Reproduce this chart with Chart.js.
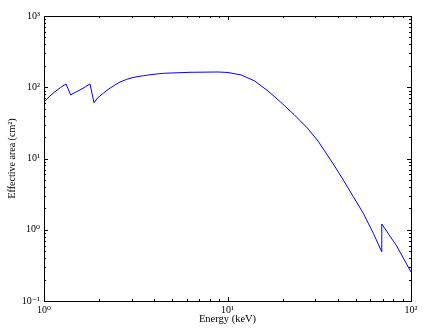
<!DOCTYPE html>
<html>
<head>
<meta charset="utf-8">
<script src="https://cdn.jsdelivr.net/npm/chart.js@4.4.1/dist/chart.umd.min.js"></script>
<style>
html,body{margin:0;padding:0;background:#fff;}
canvas{display:block;}
</style>
</head>
<body>
<canvas id="c" width="432" height="332"></canvas>
<script>
// Data
const energyKeV = [1.000, 1.071, 1.148, 1.230, 1.318, 1.398, 1.475, 1.571, 1.673, 1.781,
  1.873, 1.969, 2.105, 2.233, 2.386, 2.563, 2.823, 3.094, 3.476, 3.878, 4.468, 6.247, 8.876,
  10.06, 11.89, 14.07, 16.62, 19.65, 23.04, 27.22, 31.13, 37.72, 42.77, 48.49, 54.97, 62.32,
  69.23, 69.3, 83.57, 100];
const effectiveArea = [62.1, 74.2, 86.6, 99.2, 111.1, 77.9, 84.4, 91.5, 100.8, 111.1,
  60.7, 71.8, 82.3, 93.0, 104.1, 116.6, 129.3, 137.9, 145.3, 151.0, 157.0, 162.1, 163.7,
  161.1, 148.6, 122.4, 88.6, 60.7, 41.45, 26.8, 17.61, 8.37, 4.99, 2.91, 1.70, 0.892,
  0.492, 1.204, 0.591, 0.255];
const xRange = [1, 100];
const yRange = [0.1, 1000];
const xTitle = 'Energy (keV)';
const yTitle = 'Effective area (cm²)';
const supers = {'-':'⁻','0':'⁰','1':'¹','2':'²','3':'³','4':'⁴','5':'⁵','6':'⁶','7':'⁷','8':'⁸','9':'⁹'};

function powLabel(v){
  const e = Math.log10(v);
  const r = Math.round(e);
  if (Math.abs(e - r) > 1e-9) return '';
  return '10' + String(r).split('').map(ch => supers[ch]).join('');
}

const FONT = "'Liberation Serif', 'DejaVu Serif', serif";

const framePlugin = {
  id: 'frameTicks',
  afterDraw(chart){
    const {ctx, chartArea: a, scales} = chart;
    ctx.save();
    ctx.strokeStyle = '#000';
    ctx.lineWidth = 1;
    const drawTicks = (scale, horizontal) => {
      const lo = Math.log10(scale.min), hi = Math.log10(scale.max);
      for (let e = Math.floor(lo); e <= Math.ceil(hi); e++){
        for (let m = 1; m <= 9; m++){
          const v = m * Math.pow(10, e);
          if (v < scale.min * 0.9999 || v > scale.max * 1.0001) continue;
          const p = Math.round(scale.getPixelForValue(v)) + 0.5;
          const len = m === 1 ? 4 : 2;
          ctx.beginPath();
          if (horizontal){
            ctx.moveTo(p, a.bottom); ctx.lineTo(p, a.bottom - len);
            ctx.moveTo(p, a.top); ctx.lineTo(p, a.top + len);
          } else {
            ctx.moveTo(a.left, p); ctx.lineTo(a.left + len, p);
            ctx.moveTo(a.right, p); ctx.lineTo(a.right - len, p);
          }
          ctx.stroke();
        }
      }
    };
    drawTicks(scales.x, true);
    drawTicks(scales.y, false);
    ctx.strokeRect(Math.round(a.left) + 0.5, Math.round(a.top) + 0.5, Math.round(a.right - a.left), Math.round(a.bottom - a.top));
    ctx.restore();
  }
};

new Chart(document.getElementById('c'), {
  type: 'scatter',
  data: {
    datasets: [{
      data: energyKeV.map((x, i) => ({x: x, y: effectiveArea[i]})),
      showLine: true,
      borderColor: '#0000ff',
      borderWidth: 1,
      pointRadius: 0,
      tension: 0,
      fill: false
    }]
  },
  options: {
    responsive: false,
    animation: false,
    devicePixelRatio: 1,
    layout: {padding: {left: 0, right: 21, top: 16, bottom: 0}},
    plugins: {legend: {display: false}, tooltip: {enabled: false}},
    scales: {
      x: {
        type: 'logarithmic',
        min: xRange[0], max: xRange[1],
        grid: {display: false, drawTicks: false},
        border: {display: false},
        ticks: {
          autoSkip: false, maxRotation: 0, padding: 3,
          color: '#000', font: {family: FONT, size: 10},
          callback: (v) => powLabel(v)
        },
        title: {display: true, text: xTitle, color: '#000', font: {family: FONT, size: 10.5}, padding: {top: 0, bottom: 6}},
        afterFit: (s) => { s.height = 31; }
      },
      y: {
        type: 'logarithmic',
        min: yRange[0], max: yRange[1],
        grid: {display: false, drawTicks: false},
        border: {display: false},
        ticks: {
          autoSkip: false, padding: 4,
          color: '#000', font: {family: FONT, size: 10},
          callback: (v) => powLabel(v)
        },
        title: {display: true, text: yTitle, color: '#000', font: {family: FONT, size: 10}, padding: {top: 6, bottom: 0}},
        afterFit: (s) => { s.width = 44; }
      }
    }
  },
  plugins: [framePlugin]
});
</script>
</body>
</html>
